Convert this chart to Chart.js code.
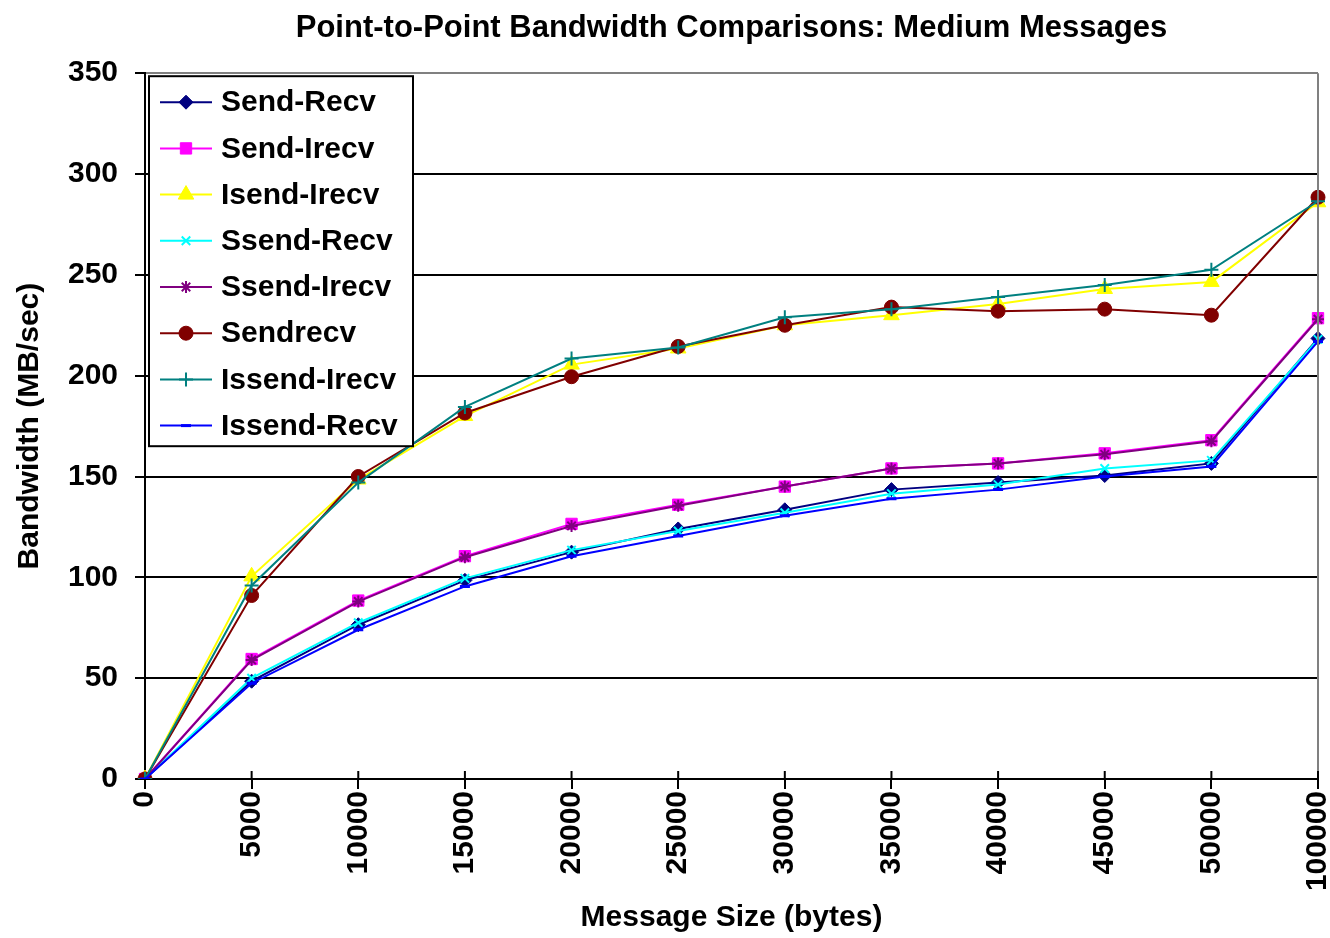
<!DOCTYPE html>
<html>
<head>
<meta charset="utf-8">
<title>Point-to-Point Bandwidth Comparisons: Medium Messages</title>
<script src="https://cdn.jsdelivr.net/npm/chart.js@4"></script>
<style>
  html, body { margin: 0; padding: 0; background: #fff; }
  #wrap { width: 1330px; height: 938px; }
</style>
</head>
<body>
<div id="wrap"><canvas id="bwChart" width="1330" height="938"></canvas></div>
<script>
// message sizes (bytes) - category axis
const messageSizes = ['0', '5000', '10000', '15000', '20000', '25000', '30000', '35000', '40000', '45000', '50000', '100000'];

// bandwidth in MB/sec
const sendRecv    = [0, 48.5, 76.5, 98.5, 112.5, 124, 133.5, 143.5, 147, 150.5, 156.5, 218.5];
const sendIrecv   = [0, 59.5, 88.5, 110.5, 126.5, 136, 145, 154, 156.5, 161.5, 168, 228.5];
const isendIrecv  = [0, 100.5, 148.5, 180, 205.5, 213.5, 225, 230, 235.5, 243, 246.5, 286];
const ssendRecv   = [0, 50, 77.5, 99.5, 113.5, 123, 132, 141.5, 146, 154, 158, 218];
const ssendIrecv  = [0, 59, 88, 110, 125.5, 135.5, 145, 154, 156.5, 161, 167.5, 228];
const sendrecv    = [0, 91, 150, 181.5, 199.5, 214.5, 225, 234, 232, 233, 230, 288.5];
const issendIrecv = [0, 96, 147, 184.5, 208.5, 214, 229, 233, 239, 245, 252.5, 286.5];
const issendRecv  = [0, 47.5, 74, 95.5, 110.5, 120.5, 130.5, 139, 143.5, 150, 155, 217];

const yTicks = [0, 50, 100, 150, 200, 250, 300, 350];

const FONT = "'Liberation Sans', Arial, sans-serif";

function series(label, data, color, style, radius, bw) {
    return {
        label: label,
        data: data,
        borderColor: color,
        backgroundColor: color,
        pointBackgroundColor: color,
        pointBorderColor: color,
        pointStyle: style,
        pointRadius: radius,
        pointHoverRadius: radius,
        pointBorderWidth: bw,
        borderWidth: 2,
        tension: 0
    };
}

const datasets = [
    series('Send-Recv', sendRecv, '#000080', 'rectRot', 7, 1),
    series('Send-Irecv', sendIrecv, '#FF00FF', 'rect', 8, 1),
    series('Isend-Irecv', isendIrecv, '#FFFF00', 'triangle', 9, 1),
    series('Ssend-Recv', ssendRecv, '#00FFFF', 'crossRot', 6, 2),
    series('Ssend-Irecv', ssendIrecv, '#800080', 'star', 6, 2),
    series('Sendrecv', sendrecv, '#800000', 'circle', 7, 1),
    series('Issend-Irecv', issendIrecv, '#008080', 'cross', 7, 2),
    series('Issend-Recv', issendRecv, '#0000FF', 'line', 5, 3)
];
// later series on top, like the original
datasets.forEach((d, i) => { d.order = -i; });

// boxed legend inside the plot, top-left
const boxLegend = {
    id: 'boxLegend',
    afterDatasetsDraw(chart) {
        const ctx = chart.ctx;
        const a = chart.chartArea;
        const x0 = a.left + 4, y0 = a.top + 3, w = 264, h = 370;
        const rowH = 46.2;
        ctx.save();
        ctx.fillStyle = '#fff';
        ctx.fillRect(x0, y0, w, h);
        ctx.strokeStyle = '#000';
        ctx.lineWidth = 2;
        ctx.strokeRect(x0, y0, w, h);
        ctx.font = 'bold 30px ' + FONT;
        ctx.textBaseline = 'middle';
        chart.data.datasets.forEach((ds, i) => {
            const cy = y0 + 26 + i * rowH;
            ctx.strokeStyle = ds.borderColor;
            ctx.lineWidth = 2;
            ctx.beginPath();
            ctx.moveTo(x0 + 11, cy);
            ctx.lineTo(x0 + 63, cy);
            ctx.stroke();
            ctx.fillStyle = ds.pointBackgroundColor;
            ctx.strokeStyle = ds.pointBorderColor;
            ctx.lineWidth = ds.pointBorderWidth;
            Chart.helpers.drawPoint(ctx, {
                pointStyle: ds.pointStyle,
                radius: ds.pointRadius,
                borderWidth: ds.pointBorderWidth,
                rotation: 0
            }, x0 + 37, cy);
            ctx.fillStyle = '#000';
            ctx.fillText(ds.label, x0 + 72, cy + 1);
        });
        ctx.restore();
    }
};

// right plot border + cross tick marks above the x axis
const frame = {
    id: 'frame',
    afterDraw(chart) {
        const ctx = chart.ctx;
        const a = chart.chartArea;
        const xs = chart.scales.x;
        ctx.save();
        ctx.strokeStyle = '#808080';
        ctx.lineWidth = 2;
        ctx.beginPath();
        ctx.moveTo(a.right, a.top);
        ctx.lineTo(a.right, a.bottom);
        ctx.stroke();
        ctx.strokeStyle = '#000';
        ctx.lineWidth = 2;
        ctx.beginPath();
        for (let i = 1; i < xs.ticks.length; i++) {
            const px = xs.getPixelForTick(i);
            ctx.moveTo(px, a.bottom - 8);
            ctx.lineTo(px, a.bottom);
        }
        ctx.stroke();
        ctx.restore();
    }
};

new Chart(document.getElementById('bwChart').getContext('2d'), {
    type: 'line',
    data: {
        labels: messageSizes,
        datasets: datasets
    },
    options: {
        responsive: false,
        devicePixelRatio: 1,
        animation: false,
        layout: { padding: { left: 0, right: 12, top: 0, bottom: 0 } },
        plugins: {
            legend: { display: false },
            tooltip: { enabled: false },
            title: {
                display: true,
                fullSize: false,
                text: 'Point-to-Point Bandwidth Comparisons: Medium Messages',
                color: '#000',
                font: { family: FONT, size: 31, weight: 'bold', lineHeight: 1.2 },
                padding: { top: 10, bottom: 26 }
            }
        },
        scales: {
            x: {
                type: 'category',
                offset: false,
                grid: {
                    drawOnChartArea: false,
                    drawTicks: true,
                    tickLength: 10,
                    color: '#000',
                    lineWidth: 2
                },
                border: { color: '#000', width: 2 },
                ticks: {
                    color: '#000',
                    font: { family: FONT, size: 30, weight: 'bold' },
                    maxRotation: 90,
                    minRotation: 90,
                    padding: 2,
                    autoSkip: false
                },
                title: {
                    display: true,
                    text: 'Message Size (bytes)',
                    color: '#000',
                    font: { family: FONT, size: 30, weight: 'bold', lineHeight: 1.2 },
                    padding: { top: 0, bottom: 2 }
                },
                afterFit(scale) {
                    scale.height = 159;
                    scale.paddingLeft = 0;
                    scale.paddingRight = 12;
                }
            },
            y: {
                min: 0,
                max: 350,
                afterBuildTicks(scale) {
                    scale.ticks = yTicks.map(v => ({ value: v }));
                },
                grid: {
                    color: ctx => (ctx.tick && ctx.tick.value === 350 ? '#808080' : '#000'),
                    lineWidth: 2,
                    tickLength: 10,
                    tickColor: '#000'
                },
                border: { color: '#000', width: 2 },
                ticks: {
                    color: '#000',
                    font: { family: FONT, size: 30, weight: 'bold' },
                    padding: 17
                },
                title: {
                    display: true,
                    text: 'Bandwidth (MB/sec)',
                    color: '#000',
                    font: { family: FONT, size: 30, weight: 'bold', lineHeight: 1.2 },
                    padding: { top: 12, bottom: 0 }
                },
                afterFit(scale) {
                    scale.width = 145;
                }
            }
        }
    },
    plugins: [boxLegend, frame]
});
</script>
</body>
</html>
